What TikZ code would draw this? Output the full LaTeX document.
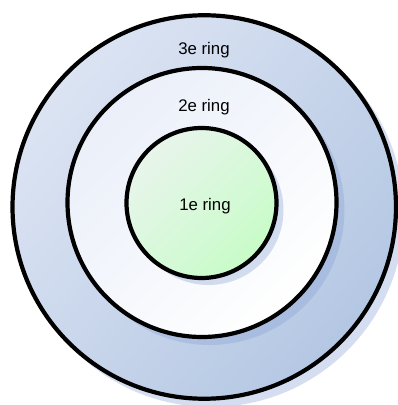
\documentclass[tikz,border=0pt]{standalone}
\usepackage{fontspec}
\setmainfont{Liberation Sans}
\definecolor{shadowc}{RGB}{135,161,212}
\definecolor{outerA}{RGB}{220,228,243}
\definecolor{outerB}{RGB}{180,199,227}
\definecolor{midA}{RGB}{234,239,249}
\definecolor{midB}{RGB}{255,255,255}
\definecolor{innA}{RGB}{232,245,236}
\definecolor{innB}{RGB}{200,252,200}
\tikzset{
  ring/.style={circle, draw=black, line width=4.2pt, inner sep=0pt},
  ringshadow/.style={fill=shadowc, opacity=0.35},
  lbl/.style={font=\fontsize{16.8}{19}\selectfont, inner sep=0pt}
}
\begin{document}
\begin{tikzpicture}[x=1pt,y=1pt]
\useasboundingbox (0,0) rectangle (398,405);
% outer ring
\fill[ringshadow] (211,191) circle (193);
\node[ring, minimum size=383.5pt, top color=outerA, bottom color=outerB, shading angle=50] (outer) at (204.25,198) {};
% middle ring
\fill[ringshadow] (209.5,195) circle (135);
\node[ring, minimum size=269pt, top color=midA, bottom color=midB, shading angle=45] (middle) at (202,202.5) {};
% inner ring
\fill[ringshadow] (208.5,195) circle (75);
\node[ring, minimum size=150pt, top color=innA, bottom color=innB, shading angle=45] (inner) at (201.5,202) {};
% labels
\node[lbl] (t3) at (204,355) {3e ring};
\node[lbl] (t2) at (204,298) {2e ring};
\node[lbl] (t1) at (205,198.5) {1e ring};
\end{tikzpicture}
\end{document}
